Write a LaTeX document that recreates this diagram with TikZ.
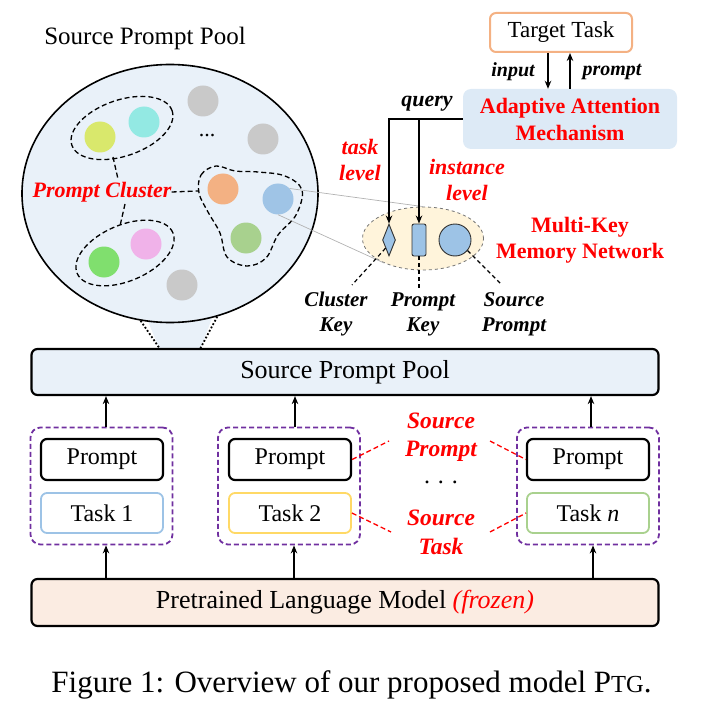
\documentclass[tikz,border=0pt]{standalone}
\usepackage{fontspec}
\setmainfont{Liberation Serif}
\usetikzlibrary{shapes.geometric,arrows.meta,calc}
\definecolor{poolblue}{HTML}{E9F1F9}
\definecolor{aamblue}{HTML}{DDEAF6}
\definecolor{lmpeach}{HTML}{FBECE2}
\definecolor{memyellow}{HTML}{FFF4DB}
\definecolor{keyblue}{HTML}{9DC3E6}
\definecolor{purp}{HTML}{7030A0}
\definecolor{ttorange}{HTML}{F4B183}
\definecolor{t1blue}{HTML}{9DC3E6}
\definecolor{t2yellow}{HTML}{FFD966}
\definecolor{tngreen}{HTML}{A9D18E}
\definecolor{cgray}{HTML}{C9C9C9}
\definecolor{cyellow}{HTML}{D9E86C}
\definecolor{ccyan}{HTML}{93E9E3}
\definecolor{corange}{HTML}{F3B183}
\definecolor{cblue}{HTML}{9FC4E6}
\definecolor{cgreen}{HTML}{A8D18E}
\definecolor{cgreen2}{HTML}{80DF6E}
\definecolor{cpink}{HTML}{F0B2E9}
\newcommand{\fsz}[2]{\fontsize{#1}{#2}\selectfont}
\begin{document}
\begin{tikzpicture}[x=1pt,y=-1pt,
  arr/.style={-{Stealth[length=8pt,width=6.5pt]}, line width=1.6pt},
  rbox/.style={draw, line width=2.2pt, rounded corners=6pt, inner sep=0},
  dotc/.style={circle, inner sep=0, minimum size=31pt},
  clu/.style={line width=1.3pt, dash pattern=on 5pt off 3pt},
  bi/.style={font=\fsz{21}{25}\bfseries\itshape, align=center, inner sep=0},
  rlab/.style={font=\fsz{22}{26}\bfseries\itshape, text=red, align=center, inner sep=0},
  grp/.style={draw=purp, line width=1.8pt, dash pattern=on 5pt off 3pt, rounded corners=10pt, minimum width=142pt, minimum height=117pt, inner sep=0},
  pbox/.style={rbox, minimum width=122pt, minimum height=41pt, font=\fsz{24}{28}},
  tbox/.style={draw, line width=1.8pt, rounded corners=6pt, inner sep=0, minimum width=122pt, minimum height=40pt, font=\fsz{24}{28}},
  reddash/.style={red, line width=1.3pt, dash pattern=on 5pt off 3pt},
  blk/.style={line width=1.2pt, dash pattern=on 4pt off 3pt},
]
\useasboundingbox (0,0) rectangle (702,711);

% ---------- top-left pool ----------
\node[font=\fsz{25}{30}] (title) at (145,38) {Source Prompt Pool};
\fill[poolblue] (141,305) -- (217,305) -- (200,350) -- (160,350) -- cycle;
\node[ellipse, draw, line width=1.6pt, fill=poolblue, minimum width=296pt, minimum height=258pt, inner sep=0] (pool) at (170,193.5) {};

\node[dotc, fill=cgray] (g1) at (203,101) {};
\node[dotc, fill=cgray] (g2) at (263,139) {};
\node[dotc, fill=cgray] (g3) at (182,285) {};
\node[font=\fsz{22}{26}] (pdots) at (207,136) {...};

\node[dotc, fill=cyellow] (cy) at (100,137) {};
\node[dotc, fill=ccyan] (cc) at (144,122) {};
\node[dotc, fill=corange] (co) at (223,189) {};
\node[dotc, fill=cblue] (cb) at (278,199) {};
\node[dotc, fill=cgreen] (cg) at (246,238) {};
\node[dotc, fill=cgreen2] (cg2) at (104,262) {};
\node[dotc, fill=cpink] (cp) at (146,244) {};

\draw[clu, rotate around={19:(122,128)}] (122,128) ellipse [x radius=53pt, y radius=28pt];
\draw[clu, rotate around={23:(125,253)}] (125,253) ellipse [x radius=52pt, y radius=28pt];
\draw[clu] plot[smooth cycle, tension=0.6] coordinates {(199,193) (201,175) (216,166) (235,171) (258,172) (285,176) (302,190) (296,215) (278,235) (266,258) (247,266) (227,257) (220,233) (208,212)};

\node[rlab] (pc) at (102,192) {Prompt Cluster};
\coordinate (k1a) at (113,157);
\coordinate (k1b) at (118,179);
\coordinate (k3a) at (125,204);
\coordinate (k3b) at (120,226);
\coordinate (k2b) at (198,191);
\draw[clu] (k1a) -- (k1b);
\draw[clu] (k3a) -- (k3b);
\draw[clu] (pc.east) -- (k2b);

% ---------- memory network ----------
\node[ellipse, draw=black!55, dashed, line width=0.8pt, fill=memyellow, minimum width=121pt, minimum height=63pt, inner sep=0] (mem) at (423,238.5) {};
\draw[black!30, line width=0.7pt] (cb.42) -- (mem.north);
\draw[black!30, line width=0.7pt] (cb.south) -- (mem.212);
\node[diamond, draw=black!80, line width=0.9pt, fill=keyblue, minimum width=13pt, minimum height=32pt, inner sep=0] (dia) at (389,240) {};
\node[draw=black!80, line width=0.9pt, fill=keyblue, rounded corners=2pt, minimum width=14pt, minimum height=32pt, inner sep=0] (key) at (419,240) {};
\node[circle, draw=black!80, line width=0.9pt, fill=keyblue, minimum size=32pt, inner sep=0] (src) at (455,240) {};

\node[bi] (ck) at (336,314) {Cluster\\Key};
\node[bi] (pk) at (423,314) {Prompt\\Key};
\node[bi] (sp) at (514,314) {Source\\Prompt};
\coordinate (ckend) at (352,285);
\coordinate (pkend) at (419,288);
\coordinate (spend) at (502,285);
\draw[blk] (dia.south west) -- (ckend);
\draw[blk] (key.south) -- (pkend);
\draw[blk] (src.-40) -- (spend);

\node[font=\fsz{22}{26}\bfseries, text=red, align=center, inner sep=0] (mk) at (580,240) {Multi-Key\\Memory Network};

% ---------- target / attention ----------
\node[draw=ttorange, line width=2pt, rounded corners=6pt, minimum width=142pt, minimum height=39pt, inner sep=0, font=\fsz{23}{27}] (tt) at (561,32.5) {Target Task};
\node[fill=aamblue, rounded corners=8pt, minimum width=214pt, minimum height=60pt, inner sep=0, font=\fsz{22}{27}\bfseries, text=red, align=center] (aam) at (570,119) {Adaptive Attention\\Mechanism};
\draw[arr] ([xshift=-13pt]tt.south) -- ([xshift=-13pt]tt.south |- aam.north);
\draw[arr] ([xshift=9pt]tt.south |- aam.north) -- ([xshift=9pt]tt.south);
\node[font=\fsz{20}{24}\bfseries\itshape] (inp) at (513,72) {input};
\node[font=\fsz{20}{24}\bfseries\itshape] (prm) at (612,72) {prompt};

\draw[arr] (aam.west) -| (dia.north);
\draw[arr] (key.north |- aam.west) -- (key.north);
\node[font=\fsz{22}{26}\bfseries\itshape] (qry) at (427,104) {query};
\node[rlab] (tl) at (360,160) {task\\level};
\node[rlab] (il) at (467,180) {instance\\level};

% ---------- bottom ----------
\node[rbox, fill=poolblue, minimum width=627pt, minimum height=46pt, font=\fsz{26}{30}] (spp) at (345,372) {Source Prompt Pool};
\coordinate (tl1) at (160,349);
\coordinate (tl2) at (200,349);
\draw[line width=1.8pt, dotted] (pool.257) -- (tl1);
\draw[line width=1.8pt, dotted] (pool.291) -- (tl2);

\node[grp] (gr1) at (101.5,486) {};
\node[grp] (gr2) at (289,486) {};
\node[grp] (gr3) at (588,486) {};
\node[pbox] (p1) at (102,459.5) {Prompt};
\node[pbox] (p2) at (290,459.5) {Prompt};
\node[pbox] (p3) at (588,459.5) {Prompt};
\node[tbox, draw=t1blue] (t1) at (102,513) {Task 1};
\node[tbox, draw=t2yellow] (t2) at (290,513) {Task 2};
\node[tbox, draw=tngreen] (t3) at (588,513) {Task \textit{n}};

\node[rbox, fill=lmpeach, minimum width=627pt, minimum height=47pt, font=\fsz{26}{30}] (lm) at (345,602.5) {Pretrained Language Model \textcolor{red}{\textit{(frozen)}}};

\draw[arr] ([xshift=4.5pt]gr1.north) -- ([xshift=4.5pt]gr1.north |- spp.south);
\draw[arr] ([xshift=6pt]gr2.north) -- ([xshift=6pt]gr2.north |- spp.south);
\draw[arr] ([xshift=3pt]gr3.north) -- ([xshift=3pt]gr3.north |- spp.south);
\draw[arr] ([xshift=4.5pt]gr1.south |- lm.north) -- ([xshift=4.5pt]gr1.south);
\draw[arr] ([xshift=5pt]gr2.south |- lm.north) -- ([xshift=5pt]gr2.south);
\draw[arr] ([xshift=5pt]gr3.south |- lm.north) -- ([xshift=5pt]gr3.south);

\node[rlab, font=\fsz{23.5}{28}\bfseries\itshape] (sprm) at (441,437) {Source\\Prompt};
\node[rlab, font=\fsz{23.5}{29}\bfseries\itshape] (stsk) at (441,532.5) {Source\\Task};
\node[font=\fsz{24}{28}] (bdots) at (441,482) {.\,\,.\,\,.};
\coordinate (r1) at (389,441);
\coordinate (r2) at (490,441);
\coordinate (r3) at (391,532);
\coordinate (r4) at (490,532);
\draw[reddash] (p2.east) -- (r1);
\draw[reddash] (r2) -- (p3.west);
\draw[reddash] (t2.east) -- (r3);
\draw[reddash] (r4) -- (t3.west);

\node[anchor=base, font=\fsz{31}{36}, inner sep=0] (cap) at (351.5,692) {Figure 1: Overview of our proposed model P{\fsz{24.5}{28}TG}.};
\end{tikzpicture}
\end{document}
